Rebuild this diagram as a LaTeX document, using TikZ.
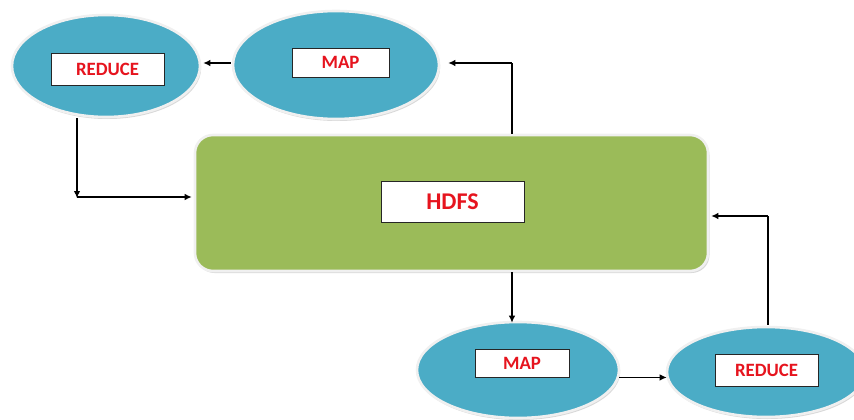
\documentclass[tikz,border=0pt]{standalone}
\usepackage{fontspec}
\setmainfont{Carlito}
\usetikzlibrary{arrows.meta,shapes.geometric,shadows}
\definecolor{stageblue}{RGB}{75,172,198}
\definecolor{storegreen}{RGB}{155,187,89}
\definecolor{labelred}{RGB}{230,20,30}
\tikzset{
  stage/.style={ellipse, fill=stageblue, draw=white!94!black, line width=2.6pt, inner sep=0pt,
    drop shadow={shadow xshift=1.2pt, shadow yshift=-2pt, fill=black!30, opacity=0.5}},
  store/.style={rectangle, rounded corners=18pt, fill=storegreen, draw=white!94!black, line width=2.6pt,
    inner sep=0pt, drop shadow={shadow xshift=1.5pt, shadow yshift=-2pt, fill=black!30, opacity=0.5}},
  tag/.style={rectangle, draw=black!85, fill=white, line width=0.9pt, inner sep=0pt, text=labelred,
    font=\bfseries\fontsize{18.8}{20}\selectfont},
  flow/.style={draw=black, line width=1.1pt, -{Latex[length=7pt,width=6.5pt]}},
  link/.style={draw=black, line width=1.1pt}
}
\begin{document}
\begin{tikzpicture}[x=1pt, y=-1pt]
  \useasboundingbox (0,0) rectangle (854,420);

  % storage layer
  \node[store, minimum width=513pt, minimum height=136pt] (hdfs) at (451.5,203) {};
  \node[tag, minimum width=143pt, minimum height=41pt, font=\bfseries\fontsize{24}{26}\selectfont] (hdfstag) at (452.5,201.5) {HDFS};

  % first round: map then reduce
  \node[stage, minimum width=206pt, minimum height=108pt] (mt) at (336,65) {};
  \node[tag, minimum width=97pt, minimum height=29pt] (mttag) at (340.5,62.5) {MAP};
  \node[stage, minimum width=188pt, minimum height=102pt] (rl) at (106,66) {};
  \node[tag, minimum width=113pt, minimum height=32pt] (rltag) at (107.5,69) {REDUCE};

  % second round: map then reduce
  \node[stage, minimum width=202pt, minimum height=96pt] (mb) at (518,370) {};
  \node[tag, minimum width=94pt, minimum height=28pt] (mbtag) at (522,363) {MAP};
  \node[stage, minimum width=198pt, minimum height=90pt] (rb) at (766,372) {};
  \node[tag, minimum width=103pt, minimum height=32pt] (rbtag) at (766.5,370.5) {REDUCE};

  % turning points of the connectors
  \coordinate (upturn) at (512,63);
  \coordinate (downturn) at (77,197);
  \coordinate (backturn) at (768,216);

  % HDFS -> MAP (top)
  \draw[link] (hdfs.north -| upturn) -- (upturn);
  \draw[flow] (upturn) -- ([xshift=8pt]mt.east |- upturn);
  % MAP -> REDUCE (top)
  \draw[flow] ([xshift=-1pt]mt.west |- upturn) -- ([xshift=2pt]rl.east |- upturn);
  % REDUCE -> HDFS
  \draw[flow] (rl.south -| downturn) -- ([yshift=-1pt]downturn);
  \draw[flow] (downturn) -- ([xshift=-2pt]hdfs.west |- downturn);
  % HDFS -> MAP (bottom)
  \draw[flow] (hdfs.south -| upturn) -- ([yshift=-2pt]mb.north -| upturn);
  % MAP -> REDUCE (bottom)
  \draw[flow] ([xshift=-1pt]mb.east |- mbtag.south) -- ([xshift=1pt]rb.west |- mbtag.south);
  % REDUCE -> HDFS
  \draw[link] ([yshift=1pt]rb.north -| backturn) -- (backturn);
  \draw[flow] (backturn) -- ([xshift=2pt]hdfs.east |- backturn);
\end{tikzpicture}
\end{document}
